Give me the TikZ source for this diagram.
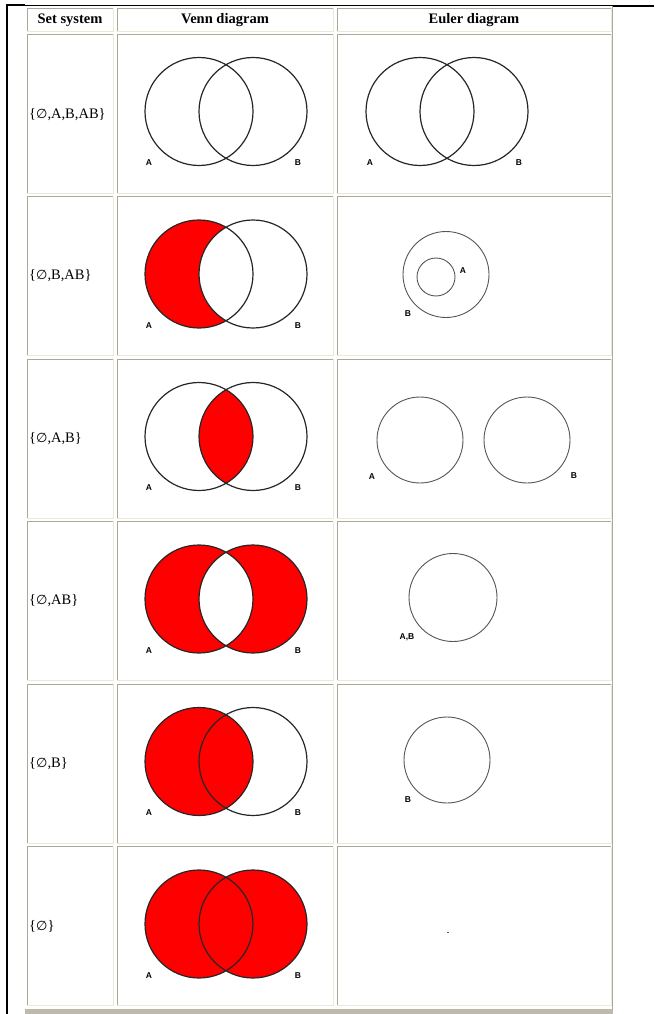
\documentclass[tikz,border=0pt]{standalone}
\usepackage{fontspec}
\setmainfont{Liberation Serif}
\newfontfamily\labelfont{Liberation Sans}
\newfontfamily\symfont{DejaVu Sans}
\newcommand{\nullset}{{\symfont\addfontfeature{Scale=0.9}∅}}
\definecolor{cellgray}{RGB}{172,168,153}
\definecolor{cellcream}{RGB}{236,233,216}
\definecolor{circlegray}{RGB}{85,85,85}

\begin{document}
\begin{tikzpicture}[x=1pt, y=-1pt, every node/.style={inner sep=0pt},
	venn/.style={line width=1.2pt, black!85},
	euler/.style={line width=0.9pt, circlegray},
	lab/.style={font=\labelfont\bfseries\fontsize{8.5}{8.5}\selectfont},
	head/.style={font=\bfseries\fontsize{14.5}{14.5}\selectfont},
	sys/.style={font=\fontsize{14.5}{14.5}\selectfont, anchor=west}]
	\useasboundingbox (0,0) rectangle (654,1014);
	% page frame
	\draw[line width=2pt] (7,4.5) -- (7,1014);
	\draw[line width=1pt] (7,5.5) -- (654,5.5);
	\draw[line width=2pt] (7,5.5) -- (25,5.5) (613,6) -- (654,6);
	% table border
	\draw[cellgray, line width=1pt] (612.5,6) -- (612.5,1009);
	\fill[cellgray!80] (25,1009) rectangle (613,1014);
	% cells
	\foreach \xa/\xb in {27/113, 117/333, 337/611} {
		\foreach \ya/\yb in {8/31, 34/193, 196.5/355.5, 359/518, 521.5/680.5, 684/843, 846.5/1005.5} {
			\draw[cellgray] (\xa,\yb) |- (\xb,\ya);
			\draw[cellcream] (\xa,\yb) -| (\xb,\ya);
		}
	}
	% header
	\node[head] (hset) at (70,20) {Set system};
	\node[head] (hvenn) at (225,20) {Venn diagram};
	\node[head] (heuler) at (474,20) {Euler diagram};
	% set systems
	\node[sys] (s1) at (29,115) {\{\nullset,A,B,AB\}};
	\node[sys] (s2) at (29,276) {\{\nullset,B,AB\}};
	\node[sys] (s3) at (29,438.5) {\{\nullset,A,B\}};
	\node[sys] (s4) at (29,601) {\{\nullset,AB\}};
	\node[sys] (s5) at (29,763.5) {\{\nullset,B\}};
	\node[sys] (s6) at (29,926) {\{\nullset\}};
	% Venn diagrams
	\draw[venn] (199,111.5) circle (54pt) (253,111.5) circle (54pt);
	\fill[red] (199,274) circle (54pt);
	\fill[white] (253,274) circle (54pt);
	\draw[venn] (199,274) circle (54pt) (253,274) circle (54pt);
	\begin{scope}
		\clip (199,436.5) circle (54pt);
		\fill[red] (253,436.5) circle (54pt);
	\end{scope}
	\draw[venn] (199,436.5) circle (54pt) (253,436.5) circle (54pt);
	\fill[red, even odd rule] (199,599) circle (54pt) (253,599) circle (54pt);
	\draw[venn] (199,599) circle (54pt) (253,599) circle (54pt);
	\fill[red] (199,761.5) circle (54pt);
	\draw[venn] (199,761.5) circle (54pt) (253,761.5) circle (54pt);
	\fill[red] (199,924) circle (54pt) (253,924) circle (54pt);
	\draw[venn] (199,924) circle (54pt) (253,924) circle (54pt);
	\node[lab] (va1) at (149,163) {A};
	\node[lab] (vb1) at (298,163) {B};
	\node[lab] (va2) at (149,325.5) {A};
	\node[lab] (vb2) at (298,325.5) {B};
	\node[lab] (va3) at (149,488) {A};
	\node[lab] (vb3) at (298,488) {B};
	\node[lab] (va4) at (149,650.5) {A};
	\node[lab] (vb4) at (298,650.5) {B};
	\node[lab] (va5) at (149,813) {A};
	\node[lab] (vb5) at (298,813) {B};
	\node[lab] (va6) at (149,975.5) {A};
	\node[lab] (vb6) at (298,975.5) {B};
	% Euler diagrams
	\draw[venn] (420,111.5) circle (54pt) (474,111.5) circle (54pt);
	\node[lab] (ea1) at (370,163) {A};
	\node[lab] (eb1) at (519,163) {B};
	\draw[euler] (446,274.5) circle (43pt) (436,277) circle (19pt);
	\node[lab] (ea2) at (463,271) {A};
	\node[lab] (eb2) at (408,314) {B};
	\draw[euler] (420,440) circle (43pt) (527,440) circle (43pt);
	\node[lab] (ea3) at (372,477) {A};
	\node[lab] (eb3) at (574,476) {B};
	\draw[euler] (453,597.5) circle (44pt);
	\node[lab] (eab4) at (407,637) {A,B};
	\draw[euler] (447,760) circle (43pt);
	\node[lab] (eb5) at (408,800) {B};
	\fill[blue!40!gray] (446.5,931.5) rectangle (448.5,932.5);
\end{tikzpicture}
\end{document}
